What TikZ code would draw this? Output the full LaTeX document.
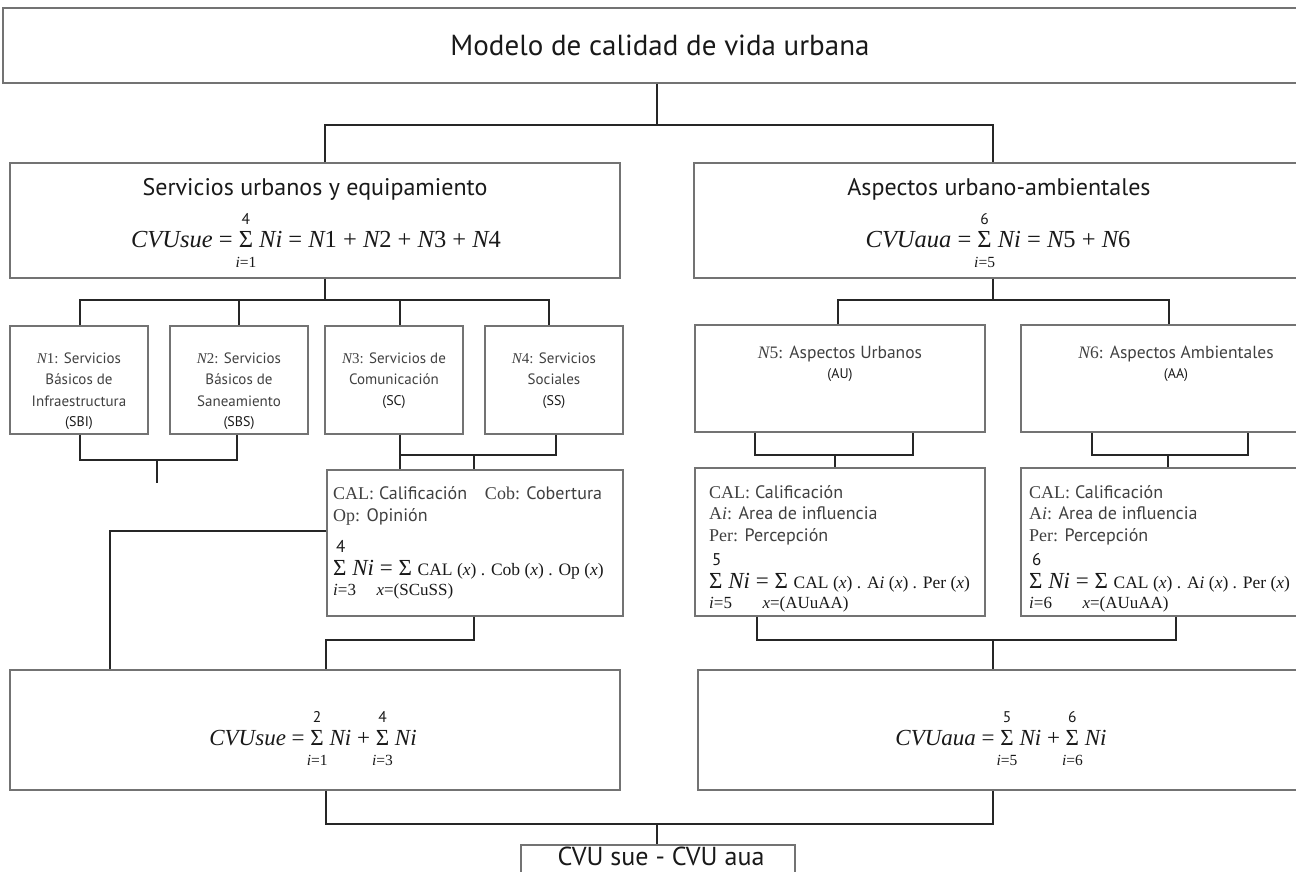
\documentclass[tikz,border=0pt]{standalone}
\usepackage{fontspec}
\setmainfont{PT Sans}
\setsansfont{PT Sans}
\newfontfamily\tms{Liberation Serif}
\usetikzlibrary{positioning}

\newcommand{\tmup}[1]{{\tms #1}}
\newcommand{\tmit}[1]{{\tms\itshape #1}}
\newcommand{\sigla}{\fontsize{14}{14}\selectfont\color{black!90}}
\newcommand{\limsize}{15.5}
\newcommand{\limfont}{\fontsize{\limsize}{\limsize}\selectfont}
\newlength\sumup \setlength\sumup{23pt}
\newlength\sumdn \setlength\sumdn{20pt}
% suma con limites centrados
\newcommand{\sumlim}[2]{\setbox0\hbox{Σ}\rlap{\hbox to\wd0{\hss\raisebox{\sumup}{\limfont\rmfamily #1}\hss}}\rlap{\hbox to\wd0{\hss\raisebox{-\sumdn}{\limfont #2}\hss}}\box0\relax}
% suma con limites a la izquierda
\newcommand{\sumliml}[3][0pt]{\setbox0\hbox{Σ}\rlap{\raisebox{\sumup}{\limfont\rmfamily #2}}\rlap{\hskip#1\raisebox{-\sumdn}{\limfont #3}}\box0\relax}

\tikzset{
  caja/.style={draw=black!55, line width=1.1pt, inner sep=0pt},
  enlace/.style={draw=black!85, line width=2.2pt},
  titulo/.style={font=\fontsize{29}{33}\selectfont, text=black!90},
  encab/.style={font=\fontsize{24}{28}\selectfont, text=black!90, inner sep=0pt},
  formula/.style={font=\tms\fontsize{24.5}{28}\selectfont, text=black!90, inner sep=0pt},
  calform/.style={font=\tms\fontsize{23}{26}\selectfont\def\limsize{17}, text=black!90, inner sep=0pt, anchor=base west},
  ntxt/.style={font=\fontsize{15}{21.5}\selectfont, align=center, text=black!75, inner sep=0pt},
  caltxt/.style={font=\fontsize{18}{22}\selectfont, align=left, text=black!75, inner sep=0pt, anchor=north west}
}

\begin{document}
\begin{tikzpicture}[x=1pt,y=-1pt]
\useasboundingbox (0,0) rectangle (1296,872);
\clip (0,0) rectangle (1296,872);

% cajas
\node[caja, minimum width=1314, minimum height=75, titulo] (modelo) at (660,45.5) {Modelo de calidad de vida urbana};
\node[caja, minimum width=610, minimum height=115] (sue) at (315,220.5) {};
\node[caja, minimum width=610, minimum height=115] (aua) at (999,220.5) {};
\node[caja, minimum width=138, minimum height=108] (n1) at (79,380) {};
\node[caja, minimum width=138, minimum height=108] (n2) at (239,380) {};
\node[caja, minimum width=138, minimum height=108] (n3) at (394,380) {};
\node[caja, minimum width=138, minimum height=108] (n4) at (554,380) {};
\node[caja, minimum width=290, minimum height=107] (n5) at (840,378.5) {};
\node[caja, minimum width=310, minimum height=107] (n6) at (1176,378.5) {};
\node[caja, minimum width=296, minimum height=146] (calsc) at (475,543) {};
\node[caja, minimum width=290, minimum height=148] (calau) at (840,542) {};
\node[caja, minimum width=310, minimum height=148] (calaa) at (1176,542) {};
\node[caja, minimum width=610, minimum height=120] (sumsue) at (315,730) {};
\node[caja, minimum width=606, minimum height=120] (sumaua) at (1001,730) {};
\node[caja, minimum width=274, minimum height=60] (final) at (658,875) {};

% textos
\node[encab, anchor=base] (suet) at (315,195) {Servicios urbanos y equipamiento};
\node[formula, anchor=base] (suef) at (316,247) {\tmit{CVUsue} = \sumlim{4}{\textit{i}=1} \tmit{Ni} = \tmit{N}1 + \tmit{N}2 + \tmit{N}3 + \tmit{N}4};
\node[encab, anchor=base] (auat) at (999,195) {Aspectos urbano-ambientales};
\node[formula, anchor=base] (auaf) at (998,247) {\tmit{CVUaua} = \sumlim{6}{\textit{i}=5} \tmit{Ni} = \tmit{N}5 + \tmit{N}6};

\node[ntxt, below=27pt of n1.north] (n1t) {\tmit{N}\tmup{1:} Servicios\\Básicos de\\Infraestructura\\[-1.5pt]{\sigla (SBI)}};
\node[ntxt, below=27pt of n2.north] (n2t) {\tmit{N}\tmup{2:} Servicios\\Básicos de\\Saneamiento\\[-1.5pt]{\sigla (SBS)}};
\node[ntxt, below=27pt of n3.north] (n3t) {\tmit{N}\tmup{3:} Servicios de\\Comunicación\\[-1pt]{\sigla (SC)}};
\node[ntxt, below=27pt of n4.north] (n4t) {\tmit{N}\tmup{4:} Servicios\\Sociales\\[-1pt]{\sigla (SS)}};
\node[ntxt, font=\fontsize{17.5}{20}\selectfont, below=21pt of n5.north] (n5t) {\tmit{N}\tmup{5:} Aspectos Urbanos\\{\sigla (AU)}};
\node[ntxt, font=\fontsize{17.5}{20}\selectfont, below=21pt of n6.north] (n6t) {\tmit{N}\tmup{6:} Aspectos Ambientales\\{\sigla (AA)}};

\node[caltxt] (calsct) at (333,486) {\tmup{CAL:} Calificación\hspace{13pt} \tmup{Cob:} Cobertura\\\tmup{Op:} Opinión};
\node[calform] (calscf) at (333,575) {\sumliml[0pt]{\,4}{\textit{i}=3} \textit{Ni} = \sumliml[-22pt]{}{\textit{x}=(SCuSS)} {\fontsize{17.5}{20}\selectfont CAL (\textit{x}) . Cob (\textit{x}) . Op (\textit{x})}};

\node[caltxt, font=\fontsize{18}{21.5}\selectfont] (calaut) at (709,485) {\tmup{CAL:} Calificación\\\tmup{A\textit{i}:} Area de influencia\\\tmup{Per:} Percepción};
\node[calform] (calauf) at (709,588) {\sumliml[0pt]{\,5}{\textit{i}=5} \textit{Ni} = \sumliml[-12pt]{}{\textit{x}=(AUuAA)} {\fontsize{17.5}{20}\selectfont CAL (\textit{x}) . A\textit{i} (\textit{x}) . Per (\textit{x})}};
\node[caltxt, font=\fontsize{18}{21.5}\selectfont] (calaat) at (1029,485) {\tmup{CAL:} Calificación\\\tmup{A\textit{i}:} Area de influencia\\\tmup{Per:} Percepción};
\node[calform] (calaaf) at (1029,588) {\sumliml[0pt]{\,6}{\textit{i}=6} \textit{Ni} = \sumliml[-12pt]{}{\textit{x}=(AUuAA)} {\fontsize{17.5}{20}\selectfont CAL (\textit{x}) . A\textit{i} (\textit{x}) . Per (\textit{x})}};

\node[formula, font=\tms\fontsize{23}{27}\selectfont, anchor=base] (sumsuef) at (313,745) {\tmit{CVUsue} = \sumlim{2}{\textit{i}=1} \tmit{Ni} + \sumlim{4}{\textit{i}=3} \tmit{Ni}};
\node[formula, font=\tms\fontsize{23}{27}\selectfont, anchor=base] (sumauaf) at (1001,745) {\tmit{CVUaua} = \sumlim{5}{\textit{i}=5} \tmit{Ni} + \sumlim{6}{\textit{i}=6} \tmit{Ni}};
\node[titulo, font=\fontsize{26}{29}\selectfont, inner sep=0pt, anchor=base] (finalt) at (661,865) {CVU sue - CVU aua};

% conectores
\coordinate (b0) at (657,125);
\coordinate (b1) at (325,125); \coordinate (b2) at (993,125);
\draw[enlace] (b0 |- modelo.south) -- (b0);
\draw[enlace] (b1 |- sue.north) -- (b1) -- (b2) -- (b2 |- aua.north);

\coordinate (c1) at (80,300); \coordinate (c2) at (239,300);
\coordinate (c3) at (400,300); \coordinate (c4) at (549,300);
\draw[enlace] (b1 |- sue.south) -- (b1 |- c1);
\draw[enlace] (c1 |- n1.north) -- (c1) -- (c4) -- (c4 |- n4.north);
\draw[enlace] (c2) -- (c2 |- n2.north);
\draw[enlace] (c3) -- (c3 |- n3.north);

\coordinate (d1) at (80,460); \coordinate (d2) at (237,460);
\coordinate (d0) at (157,460); \coordinate (d00) at (157,483);
\draw[enlace] (d1 |- n1.south) -- (d1) -- (d2) -- (d2 |- n2.south);
\draw[enlace] (d0) -- (d00);

\coordinate (e1) at (400,455); \coordinate (e2) at (556,455); \coordinate (e3) at (474,455);
\draw[enlace] (e1 |- n3.south) -- (e1 |- calsc.north);
\draw[enlace] (e1) -- (e2) -- (e2 |- n4.south);
\draw[enlace] (e3) -- (e3 |- calsc.north);

\coordinate (f1) at (110,531);
\draw[enlace] (calsc.west |- f1) -- (f1) -- (f1 |- sumsue.north);
\coordinate (g1) at (474,640); \coordinate (g2) at (326,640);
\draw[enlace] (g1 |- calsc.south) -- (g1) -- (g2) -- (g2 |- sumsue.north);

\coordinate (h1) at (838,300); \coordinate (h2) at (1169,300);
\draw[enlace] (b2 |- aua.south) -- (b2 |- h1);
\draw[enlace] (h1 |- n5.north) -- (h1) -- (h2) -- (h2 |- n6.north);

\coordinate (i1) at (755,455); \coordinate (i2) at (913,455); \coordinate (i0) at (835,455);
\draw[enlace] (i1 |- n5.south) -- (i1) -- (i2) -- (i2 |- n5.south);
\draw[enlace] (i0) -- (i0 |- calau.north);
\coordinate (j1) at (1092,455); \coordinate (j2) at (1248,455); \coordinate (j0) at (1168,455);
\draw[enlace] (j1 |- n6.south) -- (j1) -- (j2) -- (j2 |- n6.south);
\draw[enlace] (j0) -- (j0 |- calaa.north);

\coordinate (k1) at (757,640); \coordinate (k2) at (1176,640); \coordinate (k0) at (993,640);
\draw[enlace] (k1 |- calau.south) -- (k1) -- (k2) -- (k2 |- calaa.south);
\draw[enlace] (k0) -- (k0 |- sumaua.north);

\coordinate (l1) at (326,824); \coordinate (l2) at (993,824); \coordinate (l0) at (657,824);
\draw[enlace] (l1 |- sumsue.south) -- (l1) -- (l2) -- (l2 |- sumaua.south);
\draw[enlace] (l0) -- (l0 |- final.north);
\end{tikzpicture}
\end{document}
